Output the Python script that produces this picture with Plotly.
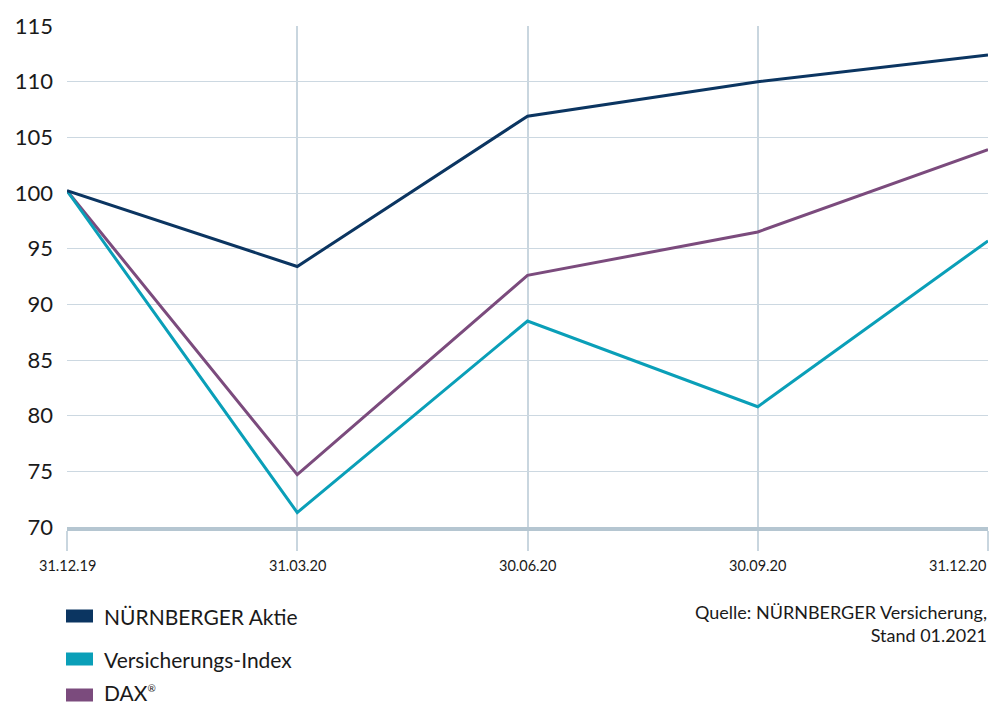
import plotly.graph_objects as go

dates = ["31.12.19", "31.03.20", "30.06.20", "30.09.20", "31.12.20"]
nuernberger = [100.2, 93.4, 106.9, 110.0, 112.4]
versicherung = [100.2, 71.3, 88.5, 80.8, 95.7]
dax = [100.2, 74.7, 92.6, 96.5, 103.9]
y_ticks = [70, 75, 80, 85, 90, 95, 100, 105, 110, 115]

series_names = ["NÜRNBERGER Aktie", "Versicherungs-Index",
                "DAX<sup><span style='font-size:10px'>®</span></sup>"]
series_values = [nuernberger, versicherung, dax]
series_colors = ["#0b3561", "#0a9fb8", "#7b4b7d"]
source_lines = ["Quelle: NÜRNBERGER Versicherung,", "Stand 01.2021"]

FONT = "Lato"
W, H = 1002, 706
ML, MR, MT, MB = 67, 14, 26, 179
PW, PH = W - ML - MR, H - MT - MB

fig = go.Figure()
# draw order: DAX, Versicherung, Nürnberger (top)
for idx in [2, 1, 0]:
    fig.add_trace(go.Scatter(
        x=list(range(len(dates))), y=series_values[idx], mode="lines",
        line=dict(color=series_colors[idx], width=3),
        name=series_names[idx], showlegend=False, hoverinfo="x+y"))

def px_x(p):
    return (p - ML) / PW

def px_y(p):
    return (H - MB - p) / PH

shapes = []
annotations = []
# manual legend
leg_y = [616, 659, 695]
for i, name in enumerate(series_names):
    shapes.append(dict(type="rect", xref="paper", yref="paper",
                       x0=px_x(66), x1=px_x(93),
                       y0=px_y(leg_y[i] - 6.5), y1=px_y(leg_y[i] + 6.5),
                       fillcolor=series_colors[i], line=dict(width=0)))
    annotations.append(dict(text=name, xref="paper", yref="paper",
                            x=px_x(102), y=px_y(leg_y[i] - (2 if i == 2 else 0)),
                            xanchor="left", yanchor="middle",
                            showarrow=False, font=dict(family=FONT, size=21, color="#1a1a1a")))

# source note
annotations.append(dict(text="<br>".join(source_lines), xref="paper", yref="paper",
                        x=px_x(989), y=px_y(599), xanchor="right", yanchor="top", align="right",
                        showarrow=False, font=dict(family=FONT, size=18, color="#1a1a1a")))

# x tick labels (last label aligned inward like the reference)
for i, d in enumerate(dates):
    anchor = "center" if i < len(dates) - 1 else "right"
    annotations.append(dict(text=d, xref="x", yref="paper", x=i, y=px_y(555),
                            xanchor=anchor, yanchor="top", showarrow=False,
                            font=dict(family=FONT, size=14.5, color="#1a1a1a")))

fig.update_layout(
    width=W, height=H,
    margin=dict(l=ML, r=MR, t=MT, b=MB, autoexpand=False),
    paper_bgcolor="white", plot_bgcolor="white",
    font=dict(family=FONT, color="#1a1a1a"),
    shapes=shapes, annotations=annotations,
    xaxis=dict(range=[0, len(dates) - 1], tickmode="array",
               tickvals=list(range(len(dates))), showticklabels=False,
               showgrid=True, gridcolor="#c9d6df", gridwidth=1.5,
               showline=True, linecolor="#b5c6d1", linewidth=4,
               ticks="outside", ticklen=20, tickcolor="#c9d6df", tickwidth=1.5,
               zeroline=False, fixedrange=True),
    yaxis=dict(range=[70, 115], tickmode="array", tickvals=y_ticks,
               ticktext=[str(v) for v in y_ticks],
               showgrid=True, gridcolor="#ccd8e1", gridwidth=1,
               showline=False, ticks="", zeroline=False,
               ticklabelstandoff=13,
               tickfont=dict(family=FONT, size=22, color="#1a1a1a"), fixedrange=True),
)

fig.write_html("out.html", config={"displayModeBar": False},
               post_script="document.body.style.margin='0';document.body.style.overflow='hidden';")
